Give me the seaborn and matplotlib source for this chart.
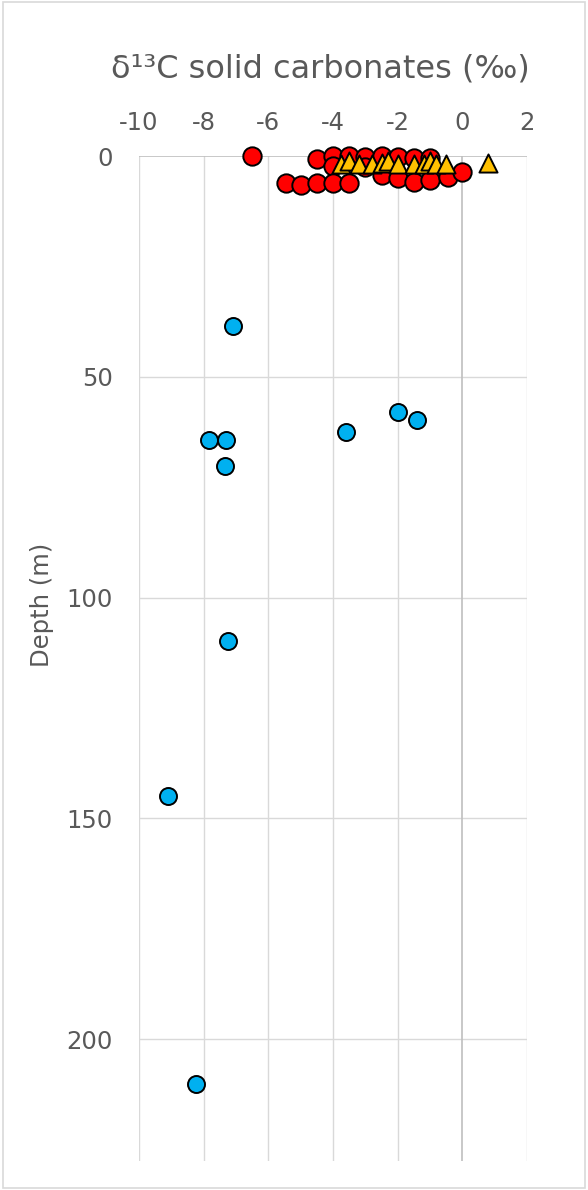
import matplotlib
matplotlib.use("Agg")
import matplotlib.pyplot as plt
import seaborn as sns
import pandas as pd
from matplotlib.patches import Rectangle

# Deep samples (blue circles)
deep_d13c = [-7.1, -7.85, -7.3, -7.35, -3.6, -2.0, -1.4, -7.25, -9.1, -8.25]
deep_depth = [38.5, 64.3, 64.3, 70.2, 62.5, 58.0, 59.8, 109.9, 145.0, 210.2]

# Shallow samples (red circles)
shallow_d13c = [-6.5, -4.5, -4.0, -3.5, -3.0, -2.5, -2.0, -1.5, -1.0,
                -4.0, -3.0,
                -5.45, -5.0, -4.5, -4.0, -3.5,
                -2.5, -2.0, -1.5, -1.0, -0.45, 0.0]
shallow_depth = [0.0, 0.6, 0.0, 0.0, 0.2, 0.0, 0.3, 0.5, 0.4,
                 2.2, 2.5,
                 6.2, 6.6, 6.2, 6.0, 6.2,
                 4.3, 5.0, 5.8, 5.4, 4.7, 3.7]

# Surface samples (yellow triangles)
surface_d13c = [-3.75, -3.5, -3.2, -2.8, -2.5, -2.3, -2.0, -1.5, -1.2, -1.0, -0.8, -0.5, 0.8]
surface_depth = [1.9, 1.2, 1.9, 1.9, 1.6, 1.2, 1.9, 1.9, 1.7, 1.2, 1.8, 1.8, 1.6]

x_ticks = [-10, -8, -6, -4, -2, 0, 2]
y_ticks = [0, 50, 100, 150, 200]

deep = pd.DataFrame({"d13c": deep_d13c, "depth": deep_depth})
shallow = pd.DataFrame({"d13c": shallow_d13c, "depth": shallow_depth})
surface = pd.DataFrame({"d13c": surface_d13c, "depth": surface_depth})

sns.set_style("white")
plt.rcParams["font.family"] = ["DejaVu Sans"]
text_color = "#595959"

fig = plt.figure(figsize=(5.88, 11.9), dpi=100)
ax = fig.add_axes([0.2364, 0.0247, 0.6599, 0.8442])

grid_kw = dict(color="#d9d9d9", lw=1.0, zorder=0)
for xv in x_ticks:
    if xv != 0:
        ax.axvline(xv, **grid_kw)
for yv in y_ticks:
    if yv != 0:
        ax.axhline(yv, **grid_kw)
ax.axvline(0, color="#bfbfbf", lw=1.2, zorder=0)
ax.axhline(0, color="#bfbfbf", lw=1.2, zorder=0)

sns.scatterplot(data=deep, x="d13c", y="depth", ax=ax, color="#00B0F0",
                edgecolor="black", linewidth=1.4, s=150, marker="o",
                zorder=3, clip_on=False)
sns.scatterplot(data=shallow, x="d13c", y="depth", ax=ax, color="#FF0000",
                edgecolor="black", linewidth=1.4, s=175, marker="o",
                zorder=3, clip_on=False)
sns.scatterplot(data=surface, x="d13c", y="depth", ax=ax, color="#FFC000",
                edgecolor="black", linewidth=1.4, s=170, marker="^",
                zorder=4, clip_on=False)

ax.set_xlim(-10, 2)
ax.set_ylim(227.5, 0)
ax.set_xticks(x_ticks)
ax.set_yticks(y_ticks)
ax.set_xticklabels([str(v) for v in x_ticks])
ax.set_yticklabels([str(v) for v in y_ticks])
ax.xaxis.tick_top()
ax.tick_params(axis="both", length=0, labelsize=17.5, colors=text_color)
ax.tick_params(axis="x", pad=15)
ax.tick_params(axis="y", pad=19)
for sp in ax.spines.values():
    sp.set_visible(False)

ax.set_xlabel("")
ax.set_ylabel("")
fig.text(320 / 588, 1 - 69 / 1190, "δ¹³C solid carbonates (‰)", ha="center",
         va="center", fontsize=23, color=text_color)
fig.text(42 / 588, 1 - 605 / 1190, "Depth (m)", rotation=90, ha="center",
         va="center", fontsize=17.5, color=text_color)

fig.patches.append(Rectangle((3 / 588, 2 / 1190), 582 / 588, 1186 / 1190,
                             transform=fig.transFigure, fill=False,
                             edgecolor="#d9d9d9", lw=1.2))

fig.savefig("out.png", dpi=100, facecolor="white")
